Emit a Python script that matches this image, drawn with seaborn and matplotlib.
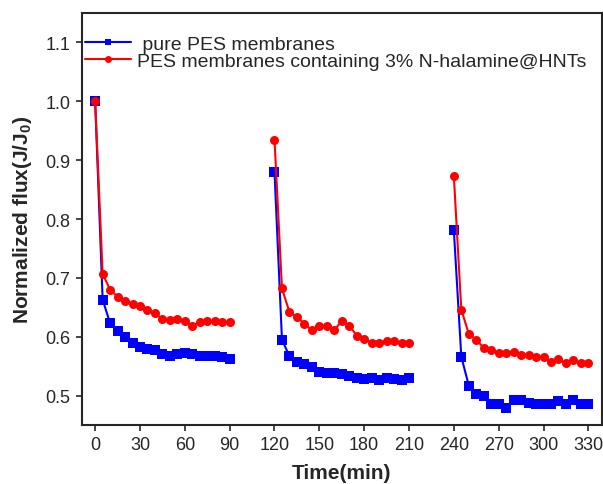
import pandas as pd
import matplotlib
matplotlib.use("Agg")
import matplotlib.pyplot as plt
import seaborn as sns

# filtration time (min), three cycles of 0-90 min
time_c1 = [0, 5, 10, 15, 20, 25, 30, 35, 40, 45, 50, 55, 60, 65, 70, 75, 80, 85, 90]
time_c2 = [t + 120 for t in time_c1]
time_c3 = [t + 240 for t in time_c1]

pure_c1 = [1.000, 0.663, 0.623, 0.610, 0.600, 0.590, 0.583, 0.580, 0.578, 0.570,
           0.567, 0.570, 0.573, 0.570, 0.567, 0.567, 0.567, 0.566, 0.563]
pure_c2 = [0.880, 0.595, 0.567, 0.557, 0.553, 0.549, 0.540, 0.538, 0.538, 0.537,
           0.533, 0.530, 0.529, 0.530, 0.527, 0.530, 0.528, 0.527, 0.530]
pure_c3 = [0.781, 0.566, 0.517, 0.502, 0.499, 0.485, 0.485, 0.479, 0.493, 0.493,
           0.488, 0.485, 0.486, 0.485, 0.490, 0.486, 0.492, 0.485, 0.485]

hnt_c1 = [1.000, 0.707, 0.680, 0.668, 0.660, 0.656, 0.652, 0.645, 0.640, 0.630,
          0.628, 0.630, 0.627, 0.619, 0.625, 0.627, 0.627, 0.625, 0.625]
hnt_c2 = [0.935, 0.682, 0.642, 0.634, 0.622, 0.611, 0.619, 0.619, 0.611, 0.627,
          0.619, 0.602, 0.596, 0.590, 0.590, 0.593, 0.592, 0.590, 0.590]
hnt_c3 = [0.873, 0.646, 0.605, 0.595, 0.581, 0.577, 0.573, 0.573, 0.574, 0.569,
          0.569, 0.565, 0.565, 0.557, 0.562, 0.555, 0.560, 0.555, 0.555]

label_pure = " pure PES membranes"
label_hnt = "PES membranes containing 3% N-halamine@HNTs"

rows = []
for name, cycles in [(label_pure, [pure_c1, pure_c2, pure_c3]),
                     (label_hnt, [hnt_c1, hnt_c2, hnt_c3])]:
    for k, (tt, vv) in enumerate(zip([time_c1, time_c2, time_c3], cycles)):
        for t, v in zip(tt, vv):
            rows.append({"Time": t, "Flux": v, "Sample": name, "Cycle": k})
df = pd.DataFrame(rows)

sns.set_style("ticks")
plt.rcParams["font.family"] = ["Liberation Sans", "DejaVu Sans"]
plt.rcParams["mathtext.fontset"] = "custom"
plt.rcParams["mathtext.rm"] = "Liberation Sans"
plt.rcParams["mathtext.bf"] = "Liberation Sans:bold"

fig = plt.figure(figsize=(6.03, 4.85), dpi=100)
ax = fig.add_axes([0.1355, 0.1216, 0.8625, 0.8495])

sns.lineplot(data=df, x="Time", y="Flux", hue="Sample", style="Sample",
             units="Cycle", estimator=None, sort=False,
             palette={label_pure: "#0000ff", label_hnt: "#ff0000"},
             markers={label_pure: "s", label_hnt: "o"}, dashes=False,
             markersize=6.5, markeredgewidth=0, linewidth=1.5, ax=ax)

ax.set_xlim(-9, 339)
ax.set_ylim(0.45, 1.15)
ax.set_xticks(range(0, 331, 30))
ax.set_yticks([0.5, 0.6, 0.7, 0.8, 0.9, 1.0, 1.1])
ax.set_yticklabels(["0.5", "0.6", "0.7", "0.8", "0.9", "1.0", "1.1"])
ax.tick_params(direction="out", length=4, width=1.2, labelsize=13, pad=4)
for s in ax.spines.values():
    s.set_linewidth(1.5)

ax.set_xlabel("Time(min)", fontsize=15, fontweight="bold", labelpad=7)
ax.set_ylabel(r"Normalized flux(J/J$_\mathbf{0}$)", fontsize=15,
              fontweight="bold", labelpad=8)

leg = ax.legend(loc="upper left", bbox_to_anchor=(-0.017, 0.975), frameon=False,
                fontsize=14, handlelength=2.4, handletextpad=0.3,
                labelspacing=0.0, borderaxespad=0.2)
for h in leg.legend_handles:
    h.set_markersize(5)
    h.set_linewidth(1.5)

fig.savefig("out.png", dpi=100)
